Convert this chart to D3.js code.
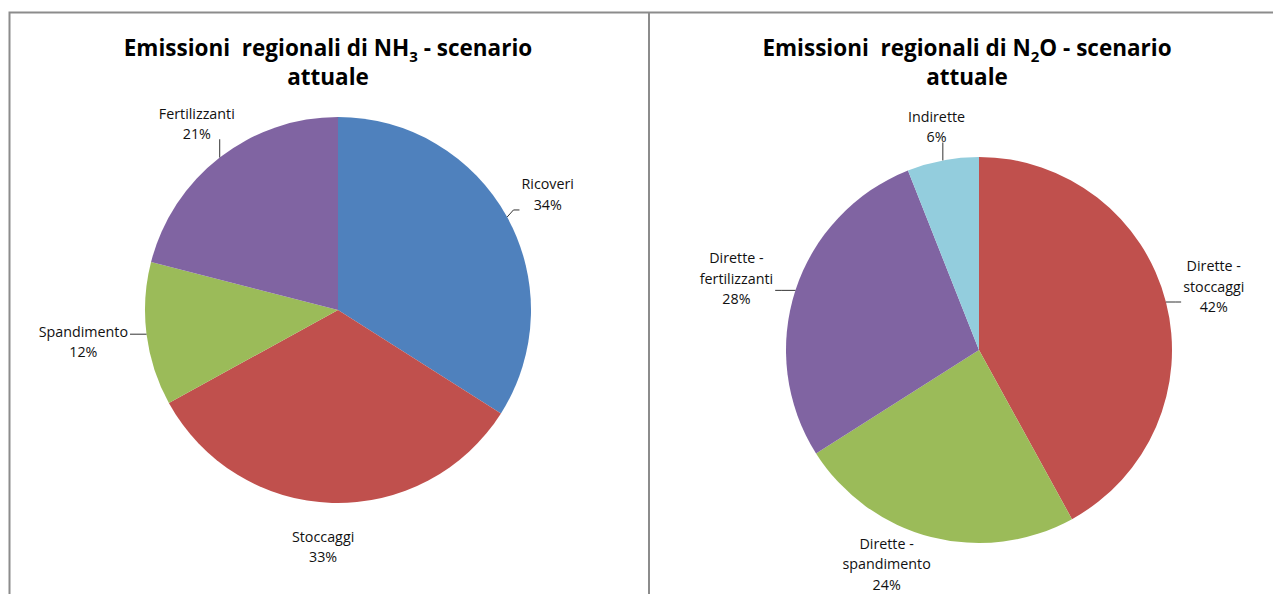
<!DOCTYPE html>
<html>
<head>
<meta charset="utf-8">
<script src="https://cdn.jsdelivr.net/npm/d3@7"></script>
<style>
  html, body { margin: 0; padding: 0; background: #fff; }
  svg { display: block; }
  text { font-family: "Open Sans", "Noto Sans", sans-serif; white-space: pre; }
</style>
</head>
<body>
<div id="chart"></div>
<script>
// Data
const nh3Labels = ["Ricoveri", "Stoccaggi", "Spandimento", "Fertilizzanti"];
const nh3Values = [34, 33, 12, 21];
const nh3Colors = ["#4f81bd", "#c0504d", "#9bbb59", "#8064a2"];

const n2oLabels = ["Dirette - stoccaggi", "Dirette - spandimento", "Dirette - fertilizzanti", "Indirette"];
const n2oValues = [42, 24, 28, 6];
const n2oColors = ["#c0504d", "#9bbb59", "#8064a2", "#93cddd"];

const W = 1273, H = 594;
const BORDER = "#8c8c8c";

const svg = d3.select("#chart").append("svg")
  .attr("width", W).attr("height", H);

// panel frames
svg.append("path")
  .attr("d", `M9.5,${H} V12.5 H${W}`)
  .attr("fill", "none").attr("stroke", BORDER).attr("stroke-width", 2);
svg.append("line")
  .attr("x1", 649).attr("x2", 649).attr("y1", 12.5).attr("y2", H)
  .attr("stroke", BORDER).attr("stroke-width", 2);

const fmt = d3.format(".0%");

function drawPie(opt) {
  const g = svg.append("g");
  const r = opt.r;
  const total = d3.sum(opt.values);

  // title
  const t = g.append("text")
    .attr("x", opt.titleX).attr("y", 56)
    .attr("text-anchor", "middle")
    .attr("font-weight", "700").attr("font-size", "22.5px").attr("fill", "#000");
  t.append("tspan").text(opt.title[0]);
  t.append("tspan").attr("font-size", "15px").attr("dy", 6).text(opt.title[1]);
  t.append("tspan").attr("dy", -6).text(opt.title[2]);
  g.append("text")
    .attr("x", opt.titleX).attr("y", 85)
    .attr("text-anchor", "middle")
    .attr("font-weight", "700").attr("font-size", "22.5px").attr("fill", "#000")
    .text("attuale");

  const pie = d3.pie().sort(null).value(d => d);
  const arcs = pie(opt.values);
  const arc = d3.arc().innerRadius(0).outerRadius(r);

  const pg = g.append("g").attr("transform", `translate(${opt.cx},${opt.cy})`);
  pg.selectAll("path.slice")
    .data(arcs)
    .join("path")
      .attr("class", "slice")
      .attr("fill", (d, i) => opt.colors[i])
      .attr("d", arc);

  const lh = 20.5;
  arcs.forEach((d, i) => {
    const mid = (d.startAngle + d.endAngle) / 2;
    const [f, off, leader] = opt.labelPos[i];
    const a = mid + off * Math.PI / 180;
    const lx = opt.cx + Math.sin(a) * r * f;
    const ly = opt.cy - Math.cos(a) * r * f;

    const name = opt.labels[i];
    const parts = name.includes(" - ")
      ? [name.split(" - ")[0] + " -", name.split(" - ")[1]]
      : [name];
    const lines = parts.concat([fmt(d.data / total)]);

    const lab = g.append("text")
      .attr("text-anchor", "middle")
      .attr("font-size", "14.3px").attr("fill", "#111");
    lines.forEach((s, k) => {
      lab.append("tspan")
        .attr("x", lx)
        .attr("y", ly - (lines.length - 1) * lh / 2 + k * lh + 5)
        .text(s);
    });

    if (!leader) return;
    // leader line from pie edge to nearest side of the label box
    const bb = lab.node().getBBox();
    const sx = opt.cx + Math.sin(mid) * r;
    const sy = opt.cy - Math.cos(mid) * r;
    const pad = 2;
    const x0 = bb.x - pad, x1 = bb.x + bb.width + pad;
    const y0 = bb.y + 4, y1 = bb.y + bb.height - 4;
    let pts;
    if (sx < x0 || sx > x1) {
      const ex = sx < x0 ? x0 : x1;
      const ey = Math.max(y0, Math.min(y1, sy));
      const elbow = sx < x0 ? ex - 6 : ex + 6;
      pts = [[sx, sy], [elbow, ey], [ex, ey]];
    } else {
      const ey = sy < y0 ? y0 : y1;
      pts = [[sx, sy], [sx, ey]];
    }
    g.append("path")
      .attr("d", d3.line()(pts))
      .attr("fill", "none").attr("stroke", "#333").attr("stroke-width", 1);
  });
}

drawPie({
  title: ["Emissioni  regionali di NH", "3", " - scenario"],
  titleX: 328,
  cx: 338, cy: 310, r: 193,
  labels: nh3Labels, values: nh3Values, colors: nh3Colors,
  labelPos: [[1.24, 0, true], [1.23, 1.8, false], [1.33, 0, true], [1.21, 0.6, true]]
});

drawPie({
  title: ["Emissioni  regionali di N", "2", "O - scenario"],
  titleX: 967,
  cx: 979, cy: 350, r: 193,
  labels: n2oLabels, values: n2oValues, colors: n2oColors,
  labelPos: [[1.26, -0.7, true], [1.21, 8.9, false], [1.31, -1.6, true], [1.175, 0, true]]
});
</script>
</body>
</html>
